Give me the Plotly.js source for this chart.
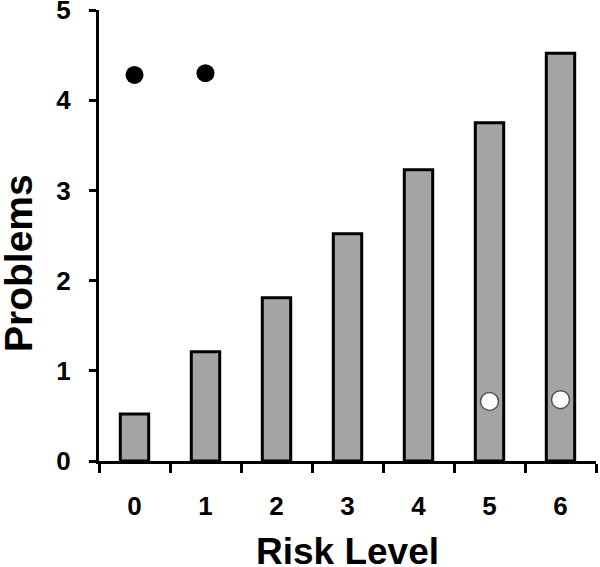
<!DOCTYPE html>
<html>
<head>
<meta charset="utf-8">
<script src="https://cdn.plot.ly/plotly-3.0.1.min.js"></script>
<style>html,body{margin:0;padding:0;background:#fff;}#chart{width:600px;height:567px;}</style>
</head>
<body>
<div id="chart"></div>
<script>
// Data
var categories = ["0", "1", "2", "3", "4", "5", "6"];
var barValues = [0.52, 1.21, 1.81, 2.52, 3.23, 3.75, 4.52];
var blackDotX = ["0", "1"];
var blackDotY = [4.28, 4.30];
var whiteDotX = ["5", "6"];
var whiteDotY = [0.66, 0.68];
var yTickVals = [0, 1, 2, 3, 4, 5];
var xTitle = "Risk Level";
var yTitle = "Problems";

var FONT = "Liberation Sans, Arial, sans-serif";

var traces = [
  {
    type: "bar",
    x: categories,
    y: barValues,
    marker: { color: "#a4a4a4", line: { color: "#000", width: 3 } },
    showlegend: false
  },
  {
    type: "scatter",
    mode: "markers",
    x: blackDotX,
    y: blackDotY,
    marker: { color: "#000", size: 18, line: { width: 0 } },
    showlegend: false
  },
  {
    type: "scatter",
    mode: "markers",
    x: whiteDotX,
    y: whiteDotY,
    marker: { color: "#fff", size: 18, line: { color: "#555", width: 1.5 } },
    showlegend: false
  }
];

var layout = {
  width: 600,
  height: 567,
  margin: { l: 99, r: 4, t: 10, b: 106 },
  paper_bgcolor: "#fff",
  plot_bgcolor: "#fff",
  bargap: 0.6,
  font: { family: FONT, color: "#000" },
  xaxis: {
    type: "category",
    range: [-0.5, 6.5],
    tickson: "boundaries",
    ticks: "outside",
    ticklen: 9,
    tickwidth: 3,
    tickcolor: "#000",
    showline: true,
    linecolor: "#000",
    linewidth: 3,
    showgrid: false,
    zeroline: false,
    tickfont: { family: FONT, size: 26, color: "#000", weight: "bold" },
    ticklabelstandoff: 20,
    ticklabeloverflow: "allow",
    fixedrange: true
  },
  yaxis: {
    range: [0, 5],
    tickvals: yTickVals,
    ticks: "outside",
    ticklen: 7,
    tickwidth: 3,
    tickcolor: "#000",
    showline: true,
    linecolor: "#000",
    linewidth: 3,
    showgrid: false,
    zeroline: false,
    tickfont: { family: FONT, size: 26, color: "#000", weight: "bold" },
    ticklabelstandoff: 13,
    ticklabeloverflow: "allow",
    fixedrange: true
  },
  annotations: [
    {
      text: xTitle,
      xref: "paper", yref: "paper",
      x: 0.5, y: -0.2,
      xanchor: "center", yanchor: "middle",
      showarrow: false,
      font: { family: FONT, size: 37, color: "#000", weight: "bold" }
    },
    {
      text: yTitle,
      xref: "paper", yref: "paper",
      x: -0.163, y: 0.439,
      xanchor: "center", yanchor: "middle",
      textangle: -90,
      showarrow: false,
      font: { family: FONT, size: 39, color: "#000", weight: "bold" }
    }
  ]
};

Plotly.newPlot("chart", traces, layout, { displayModeBar: false, staticPlot: true });
</script>
</body>
</html>
